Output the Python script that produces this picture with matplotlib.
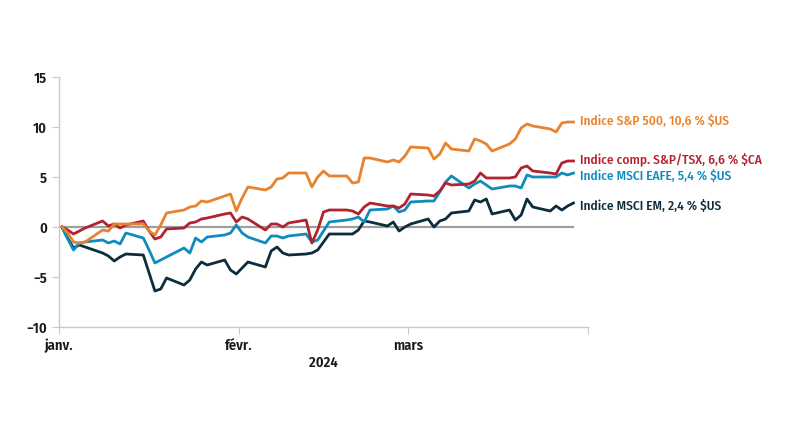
import matplotlib
matplotlib.use('Agg')
import matplotlib.pyplot as plt
import pandas as pd

# Trading days (all weekdays) of Q1 2024
dates = pd.bdate_range('2024-01-01', '2024-03-29')

sp500 = [0, -0.6, -1.5, -1.6, -1.5, -0.3, -0.4, 0.3, 0.3, 0.3,
         0.3, -0.4, -0.8, 0.2, 1.4, 1.7, 2.0, 2.1, 2.6, 2.5,
         3.1, 3.3, 1.6, 2.9, 4.0, 3.7, 4.0, 4.8, 4.9, 5.4,
         5.4, 4.0, 5.0, 5.6, 5.1, 5.1, 4.4, 4.5, 6.9, 6.9,
         6.5, 6.7, 6.5, 7.1, 8.0, 7.9, 6.8, 7.3, 8.4, 7.8,
         7.6, 8.8, 8.6, 8.3, 7.6, 8.3, 8.8, 9.9, 10.3, 10.1,
         9.8, 9.5, 10.4, 10.5, 10.5]
tsx = [0, -0.3, -0.7, -0.4, -0.1, 0.6, 0.1, 0.3, -0.1, 0.2,
       0.6, -0.4, -1.2, -1.0, -0.2, -0.1, 0.4, 0.5, 0.8, 0.9,
       1.3, 1.4, 0.5, 1.0, 0.8, -0.3, 0.3, 0.3, 0.0, 0.4,
       0.7, -1.6, -0.3, 1.5, 1.7, 1.7, 1.6, 1.3, 2.0, 2.4,
       2.1, 2.1, 1.9, 2.3, 3.3, 3.2, 3.1, 3.6, 4.4, 4.2,
       4.3, 4.6, 5.4, 4.9, 4.9, 4.9, 5.0, 5.9, 6.1, 5.6,
       5.4, 5.3, 6.4, 6.6, 6.6]
eafe = [0, -1.2, -2.3, -1.6, -1.5, -1.3, -1.6, -1.4, -1.7, -0.6,
        -1.1, -2.3, -3.6, -3.3, -3.0, -2.1, -2.6, -1.1, -1.5, -1.0,
        -0.8, -0.6, 0.2, -0.6, -1.0, -1.6, -0.9, -0.9, -1.1, -0.9,
        -0.7, -1.5, -1.3, -0.4, 0.5, 0.7, 0.8, 1.0, 0.5, 1.7,
        1.8, 2.1, 1.5, 1.7, 2.5, 2.6, 2.6, 3.5, 4.5, 5.1,
        3.9, 4.3, 4.6, 4.2, 3.8, 4.1, 4.1, 3.9, 5.2, 5.0,
        5.0, 5.0, 5.4, 5.2, 5.4]
em = [0, -1.1, -2.1, -1.8, -2.0, -2.6, -2.9, -3.4, -3.0, -2.7,
      -2.8, -4.6, -6.4, -6.2, -5.1, -5.8, -5.3, -4.2, -3.5, -3.8,
      -3.3, -4.3, -4.7, -4.1, -3.5, -4.0, -2.4, -2.0, -2.6, -2.8,
      -2.7, -2.6, -2.3, -1.5, -0.7, -0.7, -0.7, -0.3, 0.6, 0.5,
      0.1, 0.5, -0.4, 0.0, 0.3, 0.8, 0.0, 0.6, 0.8, 1.4,
      1.6, 2.7, 2.5, 2.8, 1.3, 1.7, 0.7, 1.2, 2.8, 2.0,
      1.6, 2.1, 1.7, 2.1, 2.4]

labels = ['Indice S&P 500, 10,6 % $US', 'Indice comp. S&P/TSX, 6,6 % $CA',
          'Indice MSCI EAFE, 5,4 % $US', 'Indice MSCI EM, 2,4 % $US']
colors = ['#E8822E', '#B1232F', '#0F8BBE', '#0D2D3D']
label_nudge = [0.1, 0.2, -0.3, -0.3]   # vertical shift of the end labels

plt.rcParams['font.family'] = ['Fira Sans Condensed', 'Asap Condensed', 'Liberation Sans Narrow', 'DejaVu Sans']

fig = plt.figure(figsize=(7.85, 4.42), dpi=100)
ax = fig.add_axes([59 / 785, 1 - 327 / 442, 529 / 785, 250 / 442])

x = dates + pd.Timedelta(hours=12)
ax.plot([x[0], x[-1]], [0, 0], color='#9f9f9f', lw=1.6, zorder=1)
for vals, col in zip([em, eafe, tsx, sp500], colors[::-1]):
    ax.plot(x, vals, color=col, lw=2.0, zorder=2, solid_joinstyle='round')

for vals, col, lab, dy in zip([sp500, tsx, eafe, em], colors, labels, label_nudge):
    ax.annotate(lab, xy=(x[-1], vals[-1] + dy), xytext=(5, 0), textcoords='offset points',
                color=col, fontsize=9.6, fontweight='medium', va='center', ha='left',
                annotation_clip=False)

ax.set_ylim(-10, 15)
ax.set_yticks([-10, -5, 0, 5, 10, 15])
ax.set_xlim(pd.Timestamp('2024-01-01'), pd.Timestamp('2024-04-01'))
ax.set_xticks(pd.to_datetime(['2024-01-01', '2024-02-01', '2024-03-01', '2024-04-01']))
ax.set_xticklabels(['janv.', 'févr.', 'mars', ''])
ax.set_xlabel('2024', fontsize=10.5, fontweight='semibold', color='#1a1a1a', labelpad=2)

for s in ['top', 'right']:
    ax.spines[s].set_visible(False)
for s in ['left', 'bottom']:
    ax.spines[s].set_color('#c8c8c8')
    ax.spines[s].set_linewidth(1.0)
ax.tick_params(axis='both', colors='#c8c8c8', labelcolor='#1a1a1a', labelsize=10.5, length=5)
for t in ax.get_xticklabels() + ax.get_yticklabels():
    t.set_fontweight('semibold')

fig.savefig('out.png', dpi=100)
